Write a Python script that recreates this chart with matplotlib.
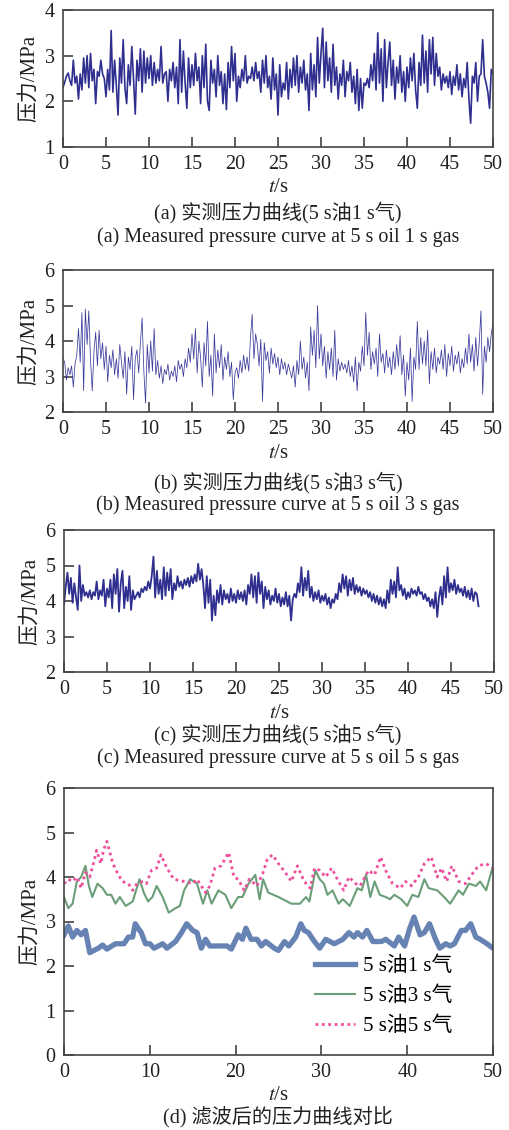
import numpy as np
import matplotlib
matplotlib.use("Agg")
import matplotlib.pyplot as plt

plt.rcParams['font.family'] = ['Liberation Serif', 'Noto Sans CJK SC']
plt.rcParams['mathtext.fontset'] = 'stix'

# measured pressure, sampled every 0.2 s (MPa)
dt = 0.2

p_1s_gas = [
    2.30, 2.42, 2.55, 2.62, 2.45, 2.35, 2.90, 2.40, 2.55, 2.05, 2.60, 2.25, 2.95, 2.40, 3.00, 2.30, 3.05, 2.45, 2.70, 1.95, 2.65, 2.55, 2.90, 2.60, 2.50,
    2.10, 2.70, 2.25, 3.55, 2.20, 2.90, 2.35, 1.70, 2.95, 2.40, 3.35, 2.30, 1.95, 2.80, 2.35, 3.20, 2.50, 1.72, 2.90, 2.45, 3.15, 2.20, 3.10, 2.40, 2.95,
    2.50, 3.00, 2.35, 2.85, 2.40, 2.70, 2.45, 3.20, 2.40, 2.60, 2.65, 2.00, 2.70, 2.45, 2.85, 2.30, 2.75, 1.95, 3.35, 2.20, 3.10, 2.40, 1.85, 2.95, 2.30,
    2.80, 2.35, 3.05, 2.45, 2.75, 1.95, 3.00, 2.30, 3.25, 2.00, 1.80, 2.90, 2.40, 2.70, 2.10, 3.00, 2.35, 2.65, 1.95, 2.60, 1.82, 2.85, 2.30, 3.20, 2.45,
    3.05, 2.00, 2.55, 2.30, 2.70, 2.45, 3.00, 2.40, 2.55, 2.50, 2.75, 2.45, 2.85, 2.50, 2.65, 2.20, 2.90, 2.40, 3.00, 2.30, 2.55, 2.05, 2.95, 2.25, 2.60,
    1.70, 2.80, 2.10, 2.40, 2.25, 2.85, 2.05, 2.70, 2.30, 2.95, 2.35, 3.00, 2.20, 2.75, 2.40, 2.90, 2.25, 2.60, 1.80, 3.05, 2.25, 2.80, 2.10, 3.40, 2.40,
    3.05, 3.60, 2.30, 3.30, 2.45, 2.95, 2.20, 3.25, 2.35, 2.75, 2.05, 2.60, 2.35, 2.90, 2.10, 2.65, 2.45, 2.85, 2.20, 2.55, 1.95, 2.70, 1.80, 2.50, 1.85,
    2.40, 2.35, 2.50, 2.30, 2.80, 2.45, 3.05, 2.25, 3.50, 2.40, 3.15, 2.00, 3.35, 2.30, 2.85, 3.30, 2.35, 2.90, 2.05, 2.75, 2.40, 3.00, 2.20, 2.65, 2.00,
    2.75, 2.30, 2.95, 2.45, 3.05, 2.25, 1.85, 2.85, 2.35, 3.45, 2.40, 3.10, 2.20, 3.35, 2.60, 3.40, 2.35, 3.05, 2.55, 2.75, 2.25, 2.60, 2.40, 2.55, 2.30,
    2.65, 2.15, 2.55, 2.35, 2.80, 2.25, 2.60, 2.10, 2.50, 2.30, 2.85, 2.05, 1.52, 2.55, 2.40, 2.85, 2.00, 2.55, 2.60, 3.35, 2.55, 2.40, 2.20, 1.85, 2.70,
    2.60,
]

p_3s_gas = [
    3.50, 3.40, 2.90, 3.25, 3.05, 3.30, 2.70, 3.35, 3.60, 4.35, 3.40, 4.80, 2.60, 4.90, 3.90, 4.85, 3.45, 2.60, 3.70, 4.25, 3.30, 4.30, 3.50, 3.95, 3.20,
    3.85, 2.85, 3.60, 3.25, 3.75, 3.05, 3.50, 2.95, 3.90, 3.40, 2.95, 3.70, 2.50, 3.55, 3.20, 3.85, 2.35, 3.50, 3.75, 3.10, 3.95, 4.65, 3.15, 2.25, 3.90,
    3.10, 4.00, 3.15, 4.35, 3.05, 3.45, 2.95, 3.30, 2.80, 3.20, 3.05, 3.35, 2.90, 3.15, 3.00, 3.30, 2.85, 3.45, 3.20, 3.35, 3.00, 3.50, 3.25, 3.80, 3.40,
    4.20, 3.50, 4.35, 3.10, 4.00, 3.55, 2.70, 3.95, 3.30, 4.55, 3.00, 3.60, 2.45, 4.20, 3.10, 3.75, 3.25, 3.90, 2.90, 3.55, 3.20, 3.70, 3.00, 3.40, 2.35,
    3.10, 3.25, 2.95, 3.45, 3.10, 3.60, 3.20, 3.55, 3.15, 4.10, 4.75, 3.50, 4.20, 3.90, 3.30, 4.05, 2.30, 3.95, 3.45, 3.70, 3.10, 3.80, 3.35, 3.65, 3.25,
    3.55, 3.05, 3.50, 3.20, 3.40, 3.05, 3.35, 3.15, 2.95, 3.30, 2.70, 3.45, 3.05, 4.00, 3.20, 3.55, 2.95, 3.40, 2.60, 4.40, 3.60, 4.30, 3.25, 5.00, 3.50,
    4.20, 3.30, 3.85, 2.95, 3.70, 3.20, 3.80, 3.00, 4.30, 2.90, 3.50, 3.15, 3.40, 3.20, 3.35, 3.10, 3.45, 3.00, 3.30, 2.85, 3.55, 2.60, 3.40, 3.15, 3.85,
    3.30, 4.80, 3.60, 4.25, 3.20, 3.70, 3.35, 3.80, 3.00, 4.20, 3.40, 3.65, 3.10, 3.75, 3.25, 3.55, 3.05, 3.70, 3.20, 3.90, 3.30, 4.15, 3.05, 3.60, 2.45,
    3.40, 2.90, 3.80, 2.30, 3.55, 3.20, 4.55, 3.20, 4.10, 3.35, 4.00, 3.30, 4.30, 2.80, 3.70, 3.20, 3.80, 3.10, 3.55, 3.35, 3.75, 3.20, 3.90, 3.00, 3.65,
    3.30, 3.85, 3.15, 3.60, 3.35, 3.70, 3.10, 3.50, 3.25, 3.80, 3.35, 4.20, 3.40, 3.90, 3.15, 4.10, 3.30, 3.95, 4.85, 2.50, 3.85, 3.40, 4.10, 3.70, 4.20,
    4.50,
]

p_5s_gas = [
    3.90, 4.40, 4.80, 4.20, 4.65, 3.95, 4.50, 4.10, 3.75, 5.00, 4.00, 4.45, 4.15, 4.25, 4.10, 4.30, 4.05, 4.25, 4.15, 4.55, 4.05, 4.30, 4.15, 4.60, 3.85,
    4.35, 4.10, 4.60, 3.80, 4.75, 4.20, 4.90, 3.70, 4.50, 4.85, 3.80, 4.40, 4.00, 4.70, 3.75, 4.30, 4.05, 4.15, 4.25, 4.10, 4.35, 4.25, 4.40, 4.30, 4.55,
    4.35, 4.70, 5.25, 4.10, 4.85, 4.20, 4.60, 4.05, 4.95, 4.15, 4.80, 4.30, 4.90, 4.05, 4.50, 4.30, 4.70, 4.40, 4.55, 4.35, 4.60, 4.45, 4.65, 4.40, 4.70,
    4.50, 4.75, 4.55, 5.05, 4.60, 4.90, 4.45, 3.80, 4.70, 3.95, 4.60, 3.45, 4.15, 3.60, 4.30, 3.95, 4.45, 3.90, 4.30, 4.05, 4.20, 3.95, 4.35, 4.00, 4.20,
    3.95, 4.30, 4.05, 4.25, 4.00, 4.30, 3.90, 4.45, 4.20, 4.75, 4.10, 4.70, 3.95, 4.80, 4.20, 4.55, 3.80, 4.40, 4.05, 4.30, 3.90, 4.15, 4.00, 4.35, 3.95,
    4.20, 3.85, 4.10, 3.90, 4.25, 3.85, 4.15, 3.45, 4.05, 4.20, 4.10, 4.50, 4.25, 4.95, 4.15, 4.65, 4.30, 4.85, 4.10, 4.40, 4.00, 4.25, 4.05, 4.30, 3.95,
    4.15, 4.00, 4.20, 3.90, 4.10, 3.80, 4.05, 3.95, 4.20, 4.05, 4.50, 4.25, 4.75, 4.35, 4.70, 4.15, 4.60, 4.30, 4.65, 4.20, 4.45, 4.25, 4.40, 4.15, 4.35,
    4.20, 4.30, 4.10, 4.25, 4.00, 4.20, 3.95, 4.15, 3.90, 4.10, 3.85, 4.05, 3.80, 4.30, 3.95, 4.60, 4.20, 4.55, 4.10, 4.95, 4.30, 4.45, 4.15, 4.35, 4.05,
    4.25, 4.10, 4.35, 4.20, 4.30, 4.15, 4.40, 4.20, 4.25, 4.05, 4.20, 4.00, 4.10, 3.85, 4.05, 3.80, 4.25, 3.55, 4.10, 4.40, 3.90, 4.70, 4.10, 4.95, 4.25,
    4.50, 4.30, 4.60, 4.20, 4.45, 4.25, 4.35, 4.15, 4.40, 4.10, 4.30, 4.05, 4.35, 4.00, 4.25, 4.20, 3.85,
]

# filtered curves (time s, pressure MPa)
t_f1 = [0, 0.5, 1, 1.5, 2, 2.5, 3, 4, 4.5, 5, 6, 7, 7.5, 8, 8.3, 9, 9.5, 10, 10.5, 11.5, 12, 13, 13.7, 14.3,
        15, 15.5, 16, 16.5, 17, 18, 19, 19.5, 20.3, 20.8, 21.2, 21.8, 22.5, 23, 23.5, 24.5, 25, 25.7, 26.2,
        27, 27.6, 28, 28.5, 29, 29.8, 30.5, 31.5, 32, 32.5, 33.2, 33.8, 34.2, 34.8, 35.3, 36, 37, 37.5, 38.5,
        39, 39.7, 40.3, 40.8, 41.5, 42, 42.6, 43.3, 43.8, 44.5, 45, 45.5, 46.3, 46.8, 47.4, 48, 48.5, 49.3, 50]
p_f1 = [2.7, 2.9, 2.65, 2.8, 2.7, 2.8, 2.3, 2.4, 2.47, 2.38, 2.5, 2.5, 2.65, 2.65, 2.95, 2.75, 2.5, 2.5,
        2.4, 2.5, 2.4, 2.55, 2.75, 2.95, 2.8, 2.75, 2.4, 2.6, 2.45, 2.45, 2.45, 2.38, 2.7, 2.6, 2.85, 2.6,
        2.6, 2.45, 2.55, 2.4, 2.35, 2.55, 2.45, 2.65, 2.95, 2.8, 2.75, 2.6, 2.4, 2.6, 2.5, 2.55, 2.6, 2.75,
        2.65, 2.75, 2.65, 2.8, 2.55, 2.55, 2.6, 2.45, 2.65, 2.45, 2.85, 3.1, 2.7, 2.75, 2.95, 2.6, 2.4,
        2.5, 2.45, 2.5, 2.8, 2.8, 2.95, 2.65, 2.6, 2.5, 2.4]

t_f3 = [0, 0.5, 1, 1.5, 2, 2.5, 2.9, 3.3, 3.9, 4.5, 5, 5.5, 6, 6.5, 7.2, 8, 8.8, 9.3, 9.8, 10.3, 10.8,
        11.5, 11.8, 12.2, 13, 13.5, 14, 14.7, 15.5, 16.2, 16.7, 17.2, 18, 18.8, 19.5, 20.3, 20.8, 21.5,
        22.3, 22.8, 23.2, 23.8, 25, 25.5, 26.5, 27.5, 28.2, 28.6, 29.3, 29.8, 30.3, 30.7, 31.3, 32, 32.5,
        33.3, 34.2, 34.7, 35.2, 35.7, 36.2, 36.8, 37.5, 38, 38.5, 39.3, 40, 40.6, 41.3, 42, 42.5, 43.5,
        44.3, 45, 46, 46.5, 47.2, 48, 48.5, 49.2, 50]
p_f3 = [3.55, 3.3, 3.4, 3.9, 4.0, 4.25, 3.8, 3.55, 3.85, 3.75, 3.6, 3.6, 3.4, 3.55, 3.35, 3.45, 3.95,
        3.65, 3.45, 3.55, 3.8, 3.55, 3.4, 3.2, 3.3, 3.35, 3.7, 3.95, 3.85, 3.4, 3.7, 3.4, 3.7, 3.6, 3.3,
        3.55, 3.55, 3.85, 4.05, 3.5, 3.95, 3.65, 3.55, 3.5, 3.4, 3.4, 3.55, 3.45, 4.15, 3.95, 3.85, 3.6,
        3.7, 3.4, 3.5, 3.35, 3.75, 3.7, 4.05, 3.55, 3.9, 3.6, 3.55, 3.5, 3.6, 3.5, 3.35, 3.6, 3.55, 3.95,
        3.75, 3.7, 3.55, 3.4, 3.7, 3.6, 3.85, 3.8, 3.9, 3.7, 4.25]

t_f5 = [0, 0.5, 1, 1.5, 2, 2.5, 3, 3.5, 3.8, 4.3, 4.6, 5, 5.7, 6.2, 6.8, 7.5, 8, 8.5, 9.2, 9.6, 10.2,
        10.8, 11.3, 12, 12.8, 14, 15, 15.5, 16.5, 17, 17.6, 18.3, 19.2, 19.8, 20.3, 21, 21.6, 22.5, 23.2,
        23.7, 24.3, 25, 25.8, 26.5, 27.2, 28, 28.7, 29.2, 29.8, 30.5, 31.2, 32, 32.6, 33.2, 34, 34.5,
        35.5, 36.2, 36.9, 37.6, 38.3, 39.2, 39.8, 40.5, 41.3, 42, 42.8, 43.5, 44, 44.6, 45.2, 46, 46.8,
        47.5, 48.3, 49.2, 50]
p_f5 = [3.85, 3.95, 3.9, 4.0, 3.75, 4.1, 4.0, 4.35, 4.6, 4.3, 4.6, 4.8, 4.3, 4.1, 3.9, 3.85, 3.7, 3.85,
        3.9, 3.85, 4.15, 4.2, 4.5, 4.2, 3.95, 3.9, 3.85, 3.95, 3.65, 3.8, 4.2, 4.25, 4.55, 4.0, 3.95, 3.7,
        3.95, 3.8, 4.1, 4.4, 4.5, 4.3, 4.1, 3.9, 4.25, 3.9, 3.75, 4.2, 4.15, 4.0, 4.2, 3.9, 3.7, 4.0,
        3.85, 3.8, 4.15, 4.05, 4.45, 4.1, 3.85, 3.75, 3.9, 3.8, 4.0, 4.3, 4.45, 4.0, 4.2, 3.9, 4.25, 3.9,
        3.85, 4.05, 4.25, 4.3, 4.2]

legend_labels = ['5 s油1 s气', '5 s油3 s气', '5 s油5 s气']
captions = [
    ['(a) 实测压力曲线(5 s油1 s气)', '(a) Measured pressure curve at 5 s oil 1 s gas'],
    ['(b) 实测压力曲线(5 s油3 s气)', '(b) Measured pressure curve at 5 s oil 3 s gas'],
    ['(c) 实测压力曲线(5 s油5 s气)', '(c) Measured pressure curve at 5 s oil 5 s gas'],
    ['(d) 滤波后的压力曲线对比'],
]

W, H = 510, 1130
fig = plt.figure(figsize=(W / 100, H / 100), dpi=100)


def px_axes(left, top, right, bottom):
    return fig.add_axes([left / W, 1 - bottom / H, (right - left) / W, (bottom - top) / H])


def style(ax, ylim, yticks, xticks):
    ax.set_xlim(0, 50)
    ax.set_ylim(*ylim)
    ax.set_xticks(xticks)
    ax.set_yticks(yticks)
    ax.tick_params(direction='in', length=7, width=1.1, labelsize=14.5,
                   colors='#333333', labelcolor='#222222', pad=6)
    for s in ax.spines.values():
        s.set_color('#444444')
        s.set_linewidth(1.2)
    ax.set_ylabel('压力/MPa', fontsize=15, color='#222222', labelpad=4)
    ax.set_xlabel('$t$/s', fontsize=15, color='#222222', labelpad=3)


navy = '#2e2f8f'
ticks5 = list(range(0, 51, 5))

ax1 = px_axes(63, 10, 493, 147)
ax1.plot(np.arange(len(p_1s_gas)) * dt, p_1s_gas, color=navy, lw=1.2)
style(ax1, (1, 4), [1, 2, 3, 4], ticks5)

ax2 = px_axes(63, 270, 493, 412)
ax2.plot(np.arange(len(p_3s_gas)) * dt, p_3s_gas, color='#3a3a9c', lw=0.55)
style(ax2, (2, 6), [2, 3, 4, 5, 6], ticks5)

ax3 = px_axes(64, 530, 494, 672)
ax3.plot(np.arange(len(p_5s_gas)) * dt, p_5s_gas, color=navy, lw=1.3)
style(ax3, (2, 6), [2, 3, 4, 5, 6], ticks5)

ax4 = px_axes(64, 788, 493, 1055)
ax4.plot(t_f1, p_f1, color='#6683b3', lw=3.8, label=legend_labels[0], solid_joinstyle='round')
ax4.plot(t_f3, p_f3, color='#6a9e78', lw=1.5, label=legend_labels[1])
ax4.plot(t_f5, p_f5, color='#ee4f9c', lw=2.0, ls=(0, (1, 1.3)), label=legend_labels[2])
style(ax4, (0, 6), [0, 1, 2, 3, 4, 5, 6], list(range(0, 51, 10)))
ax4.legend(loc='lower right', bbox_to_anchor=(0.925, 0.04), frameon=False, fontsize=15,
           handlelength=1.9, handletextpad=0.4, labelspacing=0.5, borderaxespad=0)

# captions under each panel
cap_rows = [(213, 237), (483, 505), (735, 758), (1118,)]
for lines, rows in zip(captions, cap_rows):
    for text, y in zip(lines, rows):
        fig.text(278 / W, 1 - y / H, text, ha='center', va='center', fontsize=14.5, color='#222222')

fig.savefig('out.png', dpi=100)
